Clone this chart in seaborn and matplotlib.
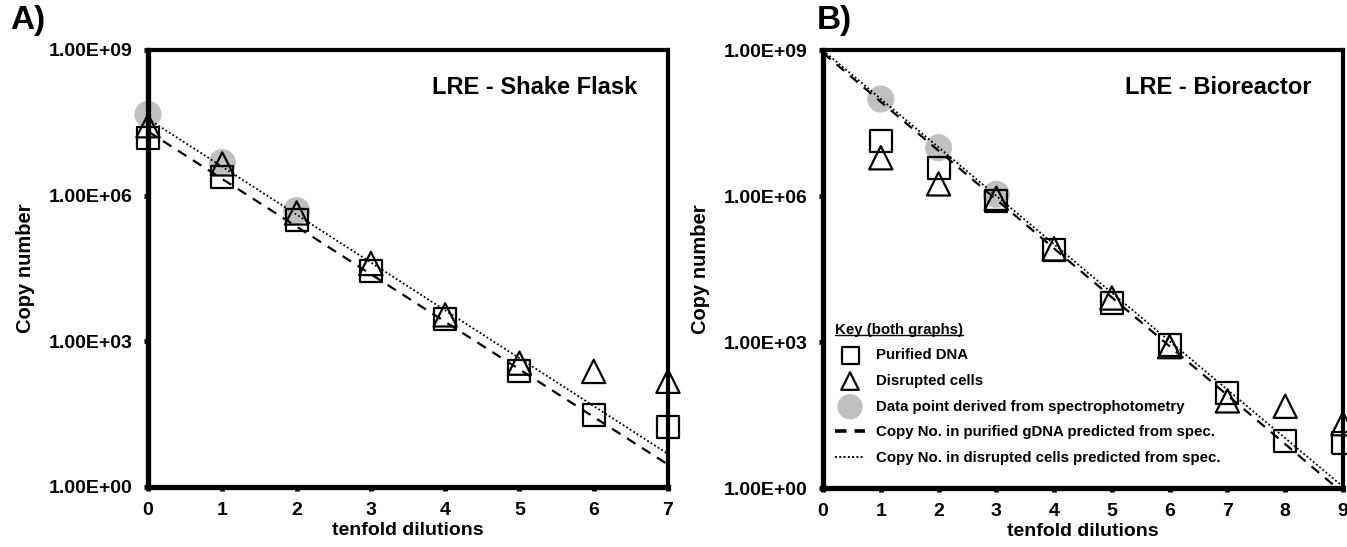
import numpy as np
import pandas as pd
import matplotlib
matplotlib.use("Agg")
import matplotlib.pyplot as plt
import seaborn as sns
from matplotlib.lines import Line2D

# values (copy numbers per tenfold dilution)
dil_a = [0, 1, 2, 3, 4, 5, 6, 7]
purified_a = [1.55e7, 2.4e6, 3.2e5, 2.8e4, 2.9e3, 250, 30, 17]
disrupted_a = [2.75e7, 4.5e6, 4.4e5, 4.0e4, 3.5e3, 355, 240, 150]
spec_x_a = [0, 1, 2]
spec_a = [4.7e7, 4.8e6, 4.9e5]
line_x_a = [0, 7]
pred_purified_a = [2.1e7, 2.9]
pred_disrupted_a = [3.8e7, 4.8]

dil_b = [1, 2, 3, 4, 5, 6, 7, 8, 9]
purified_b = [1.4e7, 3.8e6, 8.1e5, 7.9e4, 6.5e3, 870, 89, 9.1, 8.5]
disrupted_b = [6.2e6, 1.8e6, 9.1e5, 8.3e4, 8.1e3, 810, 62, 48, 21]
spec_x_b = [1, 2, 3]
spec_b = [1.0e8, 1.0e7, 1.1e6]
line_x_b = [0, 9]
pred_purified_b = [8.9e8, 0.79]
pred_disrupted_b = [1.0e9, 1.07]

ytick_vals = [1, 1e3, 1e6, 1e9]
ytick_labels = ["1.00E+00", "1.00E+03", "1.00E+06", "1.00E+09"]

labels = ["Purified DNA", "Disrupted cells", "Data point derived from spectrophotometry",
          "Copy No. in purified gDNA predicted from spec.",
          "Copy No. in disrupted cells predicted from spec."]

sns.set_style("white")
plt.rcParams['font.family'] = ['Liberation Sans', 'DejaVu Sans']
plt.rcParams['font.weight'] = 'bold'
plt.rcParams['text.color'] = 'black'
plt.rcParams['axes.labelcolor'] = 'black'
plt.rcParams['xtick.color'] = 'black'
plt.rcParams['ytick.color'] = 'black'

fig = plt.figure(figsize=(13.47, 5.47), dpi=100)
ax_a = fig.add_axes([0.1099, 0.1097, 0.386, 0.799])
ax_b = fig.add_axes([0.611, 0.1078, 0.386, 0.800])


def draw_panel(ax, dil, pur, dis, sx, sv, lx, lp, ld, xmax, title):
    sns.scatterplot(x=sx, y=sv, ax=ax, marker='o', s=380, color='#c0c0c0',
                    edgecolor='none', label=labels[2], zorder=2, clip_on=False)
    sns.scatterplot(x=dil, y=pur, ax=ax, marker='s', s=250, facecolor='none',
                    edgecolor='black', linewidth=1.6, label=labels[0], zorder=4, clip_on=False)
    sns.scatterplot(x=dil, y=dis, ax=ax, marker='^', s=280, facecolor='none',
                    edgecolor='black', linewidth=1.6, label=labels[1], zorder=4, clip_on=False)
    sns.lineplot(x=lx, y=lp, ax=ax, color='black', lw=1.6, linestyle=(0, (4.5, 3.5)),
                 label=labels[3], zorder=3)
    sns.lineplot(x=lx, y=ld, ax=ax, color='black', lw=1.3, linestyle=(0, (1, 1.3)),
                 label=labels[4], zorder=3)
    ax.set_yscale('log')
    ax.set_ylim(1, 1e9)
    ax.set_xlim(0, xmax)
    ax.set_yticks(ytick_vals, ytick_labels)
    ax.yaxis.set_minor_locator(matplotlib.ticker.NullLocator())
    ax.set_xticks(range(xmax + 1))
    ax.tick_params(axis='both', which='major', direction='out', length=3, width=3.5,
                   labelsize=14, pad=8, left=True, bottom=True, color='black')
    for lab in ax.get_xticklabels() + ax.get_yticklabels():
        lab.set_fontweight('bold')
    for side in ['left', 'bottom']:
        ax.spines[side].set_linewidth(3.8)
    for side in ['top', 'right']:
        ax.spines[side].set_linewidth(3.0)
    for sp in ax.spines.values():
        sp.set_color('black')
        sp.set_zorder(5)
    ax.set_ylabel("Copy number", fontsize=14.5, fontweight='bold', labelpad=10)
    ax.set_xlabel("tenfold dilutions", fontsize=14, fontweight='bold', labelpad=2)
    ax.text(0.94, 0.915, title, transform=ax.transAxes, ha='right', va='center',
            fontsize=17, fontweight='bold')
    ax.get_legend().remove()


draw_panel(ax_a, dil_a, purified_a, disrupted_a, spec_x_a, spec_a, line_x_a,
           pred_purified_a, pred_disrupted_a, 7, "LRE - Shake Flask")
draw_panel(ax_b, dil_b, purified_b, disrupted_b, spec_x_b, spec_b, line_x_b,
           pred_purified_b, pred_disrupted_b, 9, "LRE - Bioreactor")

handles, labs = ax_b.get_legend_handles_labels()
order = [labs.index(l) for l in labels]
leg = ax_b.legend([handles[i] for i in order], [labs[i] for i in order],
                  title="Key (both graphs)", loc='lower left', bbox_to_anchor=(0.0, 0.025),
                  frameon=False, fontsize=10.8, title_fontsize=10.8, handlelength=2.0,
                  handletextpad=0.75, labelspacing=0.78, alignment='left', borderpad=0.3)
leg.get_title().set_fontweight('bold')
for t in leg.get_texts():
    t.set_fontweight('bold')
lh = leg.legend_handles
lh[0].set_sizes([150])
lh[1].set_sizes([160])
lh[2].set_sizes([330])
lh[3].set_linewidth(2.6)
lh[3].set_linestyle((0, (3.2, 2.2)))
lh[4].set_linewidth(1.4)
lh[4].set_linestyle((0, (1, 1.2)))

fig.text(0.0074, 0.99, "A)", fontsize=24, fontweight='bold', va='top', ha='left')
fig.text(0.6065, 0.99, "B)", fontsize=24, fontweight='bold', va='top', ha='left')

# underline the legend title
fig.canvas.draw()
bb = leg.get_title().get_window_extent()
inv = fig.transFigure.inverted()
(x0, y0), (x1, _) = inv.transform([[bb.x0, bb.y0 + 1.5], [bb.x1, bb.y0 + 1.5]])
fig.add_artist(Line2D([x0, x1], [y0, y0], transform=fig.transFigure, color='black', lw=1.0))

fig.savefig("out.png", dpi=100)
